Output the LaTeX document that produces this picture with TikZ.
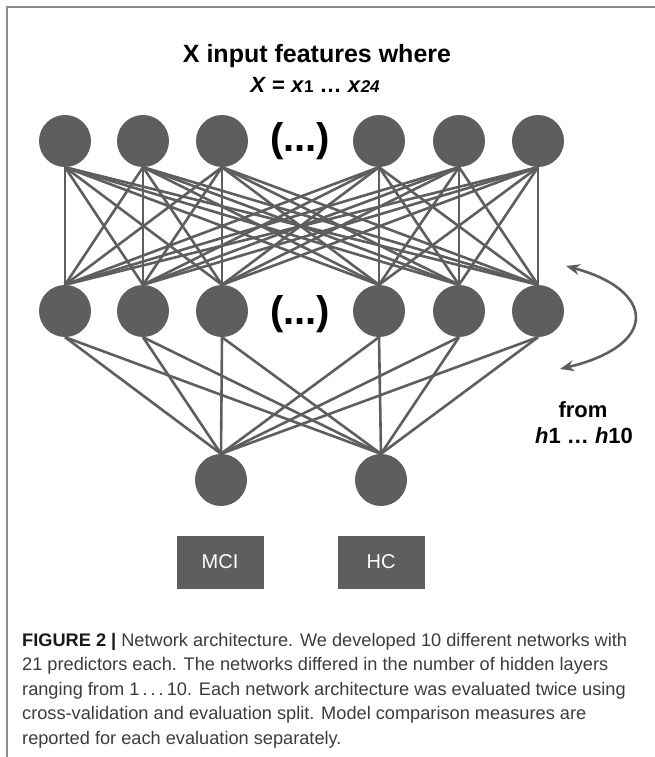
\documentclass[tikz,border=0pt]{standalone}
\usepackage{fontspec}
\setmainfont{Liberation Sans}
\usepackage{xcolor}
\usetikzlibrary{arrows.meta}

\definecolor{netgray}{HTML}{5E5E5E}
\definecolor{framegray}{HTML}{8C8C8C}
\definecolor{capgray}{HTML}{3C3C3C}

\tikzset{
    neuron/.style={circle, fill=netgray, minimum size=52pt, inner sep=0pt},
    link/.style={draw=netgray, line width=2.6pt},
    classbox/.style={rectangle, fill=netgray, minimum width=87pt, minimum height=53pt, inner sep=0pt, text=white, font=\fontsize{20}{24}\selectfont},
    dotsnode/.style={font=\bfseries\fontsize{40}{44}\selectfont},
    boldlabel/.style={font=\bfseries\fontsize{22}{26}\selectfont}
}

\begin{document}
\begin{tikzpicture}[x=1pt, y=-1pt]

            % Settings
            \def\inrow{141}
            \def\hidrow{311}
            \def\outrow{480}
            \def\capskip{24.5}

            \useasboundingbox (0,0) rectangle (655,757);
            \draw[framegray, line width=2pt] (7,757) -- (7,7) -- (655,7);

            % Title
            \node[font=\bfseries\fontsize{25}{30}\selectfont] (title) at (317,56) {X input features where};
            \node[boldlabel] (formula) at (315,85) {\textit{X} = \textit{x}{\fontsize{17}{20}\selectfont 1} \dots\ \textit{x}{\fontsize{17}{20}\selectfont\itshape 24}};

            % Input and hidden layers
            \foreach \i/\x in {1/65, 2/143, 3/222, 4/379, 5/459, 6/538} {
                    \node[neuron] (in\i) at (\x, \inrow) {};
                    \node[neuron] (hid\i) at (\x, \hidrow) {};
                }
            \node[dotsnode] (indots) at (300, \inrow) {(...)};
            \node[dotsnode] (hiddots) at (300, \hidrow+3) {(...)};

            % Output layer and classes
            \node[neuron] (out1) at (221, \outrow) {};
            \node[neuron] (out2) at (381, \outrow) {};
            \node[classbox] (mci) at (220, 562) {MCI};
            \node[classbox] (hc) at (381, 562) {HC};

            % Connections
            \foreach \i in {1,...,6} {
                    \foreach \j in {1,...,6} {
                            \draw[link] (in\i.south) -- (hid\j.north);
                        }
                    \draw[link] (hid\i.south) -- (out1.north);
                    \draw[link] (hid\i.south) -- (out2.north);
                }

            % Number of hidden layers
            \coordinate (looptop) at (566, 266);
            \coordinate (loopbot) at (560, 369);
            \draw[link, {Stealth[length=14pt, width=11pt]}-{Stealth[length=14pt, width=11pt]}] (looptop) .. controls (655, 290) and (660, 345) .. (loopbot);
            \node[boldlabel] (from) at (583, 410) {from};
            \node[boldlabel] (range) at (584, 436) {\textit{h}1 \dots\ \textit{h}10};

            % Caption
            \foreach \k/\txt in {0/{{\color{black!90}\bfseries FIGURE 2 |} Network architecture. We developed 10 different networks with},
                    1/{21 predictors each. The networks differed in the number of hidden layers},
                    2/{ranging from 1\,.\,.\,.\,10. Each network architecture was evaluated twice using},
                    3/{cross-validation and evaluation split. Model comparison measures are},
                    4/{reported for each evaluation separately.}} {
                    \node[anchor=base west, inner sep=0pt, text=capgray, font=\fontsize{18.2}{22}\selectfont] (cap\k) at (22, 646 + \k*\capskip) {\txt};
                }
        \end{tikzpicture}
\end{document}
